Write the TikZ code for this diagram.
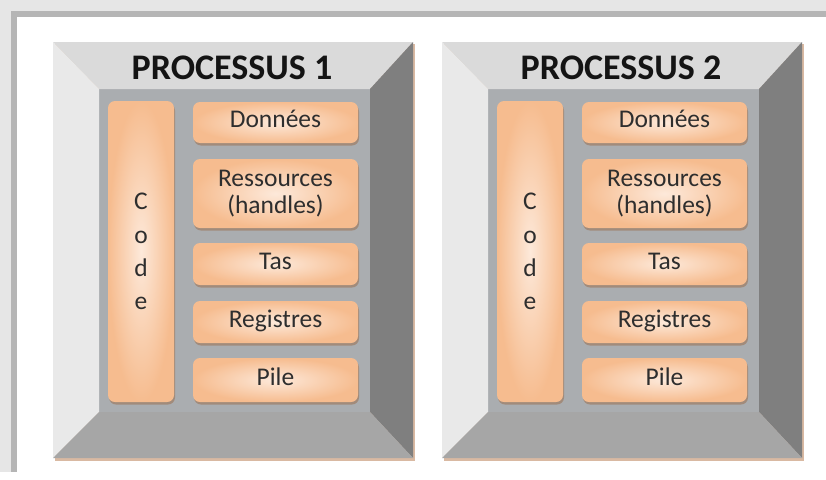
\documentclass[tikz,border=0pt]{standalone}
\usepackage{fontspec}
\setmainfont{Carlito}
\usetikzlibrary{shadows}

\definecolor{bevTop}{HTML}{DADADA}
\definecolor{bevLeft}{HTML}{E9E9E9}
\definecolor{bevRight}{HTML}{7F7F7F}
\definecolor{bevBot}{HTML}{A6A6A6}
\definecolor{well}{HTML}{AAADB0}
\definecolor{peachIn}{HTML}{FDE9DA}
\definecolor{peachOut}{HTML}{F6BC8F}
\definecolor{labelInk}{HTML}{2E2E2E}
\definecolor{frameLight}{HTML}{E6E6E6}
\definecolor{frameDark}{HTML}{B5B5B5}
\definecolor{blockShadow}{HTML}{D9B9A2}
\definecolor{cellShadow}{HTML}{9A6A48}

\tikzset{
  cell/.style={rounded corners=7pt, shade, inner color=peachIn, outer color=peachOut,
    font=\fontsize{25.5}{28}\selectfont, text=labelInk, inner sep=0pt,
    drop shadow={shadow xshift=1pt, shadow yshift=-2.5pt, opacity=0.5, fill=cellShadow}},
  slot/.style={cell, minimum width=165pt, text height=16pt, text depth=6pt},
  heading/.style={font=\fontsize{36}{40}\selectfont\bfseries, text=black!92, inner sep=0pt},
  % one process: bevelled frame, title, code column and the five data cells
  processus/.pic={
    \fill[blockShadow] (2,2) rectangle (362,419);
    \fill[well] (46,47) rectangle (317,370);
    \fill[bevTop]   (0,0) -- (360,0) -- (317,47) -- (46,47) -- cycle;
    \fill[bevLeft]  (0,0) -- (46,47) -- (46,370) -- (0,416) -- cycle;
    \fill[bevRight] (360,0) -- (360,416) -- (317,370) -- (317,47) -- cycle;
    \fill[bevBot]   (0,416) -- (360,416) -- (317,370) -- (46,370) -- cycle;
    \node[heading] (-title) at (179,26) {PROCESSUS #1};
    \node[cell, minimum width=66pt, minimum height=301pt, align=center,
          font=\fontsize{25.5}{33.3}\selectfont] (-code) at (88,209.5) {C\\o\\d\\e};
    \node[slot, minimum height=41pt] (-donnees) at (222.5,80.5) {Données};
    \node[slot, minimum height=69pt, text height=, text depth=, align=center,
          font=\fontsize{25.5}{27}\selectfont] (-ressources) at (222.5,151.5) {Ressources\\(handles)};
    \node[slot, minimum height=42pt] (-tas) at (222.5,222) {Tas};
    \node[slot, minimum height=42pt] (-registres) at (222.5,280) {Registres};
    \node[slot, minimum height=44pt] (-pile) at (222.5,338) {Pile};
  }
}

\begin{document}
\begin{tikzpicture}[x=1pt, y=-1pt]
  \useasboundingbox (0,0) rectangle (826,479);
  % page edge shading along the top and left
  \fill[frameLight] (0,0) rectangle (826,11);
  \fill[frameLight] (0,0) rectangle (11,472);
  \fill[frameDark] (11,11) rectangle (826,17);
  \fill[frameDark] (11,11) rectangle (17,472);

  \pic (p1) at (53,42) {processus=1};
  \pic (p2) at (442,42) {processus=2};
\end{tikzpicture}
\end{document}
